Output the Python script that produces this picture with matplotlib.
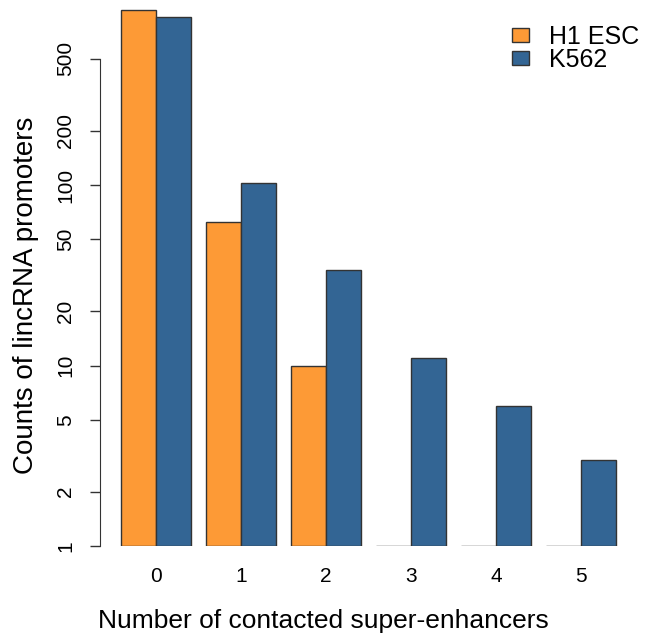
import numpy as np
import matplotlib
matplotlib.use("Agg")
import matplotlib.pyplot as plt
from matplotlib.patches import Patch

# ── Data ──────────────────────────────────────────────────────────────────────
categories = ["0", "1", "2", "3", "4", "5"]
h1_esc = [930, 62, 10, 1, 1, 1]
k562 = [850, 102, 34, 11, 6, 3]
y_ticks = [1, 2, 5, 10, 20, 50, 100, 200, 500]

ORANGE = "#FD9A36"
BLUE = "#336594"
EDGE = "#333333"

plt.rcParams["font.family"] = ["Liberation Sans", "DejaVu Sans"]

fig = plt.figure(figsize=(6.6, 6.38), dpi=100)
W, H = 660, 638
# axes box in pixels: left 100, right 660, top 0, bottom 546
ax = fig.add_axes([100 / W, 1 - 546 / H, 560 / W, 546 / H])

x = np.arange(len(categories))
bw = 35 / 85
base = 1
ax.bar(x - bw / 2, np.array(h1_esc) - base, bw, bottom=base, color=ORANGE,
       edgecolor=EDGE, linewidth=1.0)
ax.bar(x + bw / 2, np.array(k562) - base, bw, bottom=base, color=BLUE,
       edgecolor=EDGE, linewidth=1.0)

ax.set_yscale("log")
ax.set_ylim(1, 10 ** (546 / 180.5))
ax.set_xlim(-56 / 85, 5 + 79 / 85)

ax.set_yticks(y_ticks)
ax.set_yticklabels([str(t) for t in y_ticks], rotation=90, va="center")
ax.yaxis.set_minor_locator(matplotlib.ticker.NullLocator())
ax.tick_params(axis="y", length=7, width=1, color=EDGE, pad=11, labelsize=15)
ax.spines["left"].set_bounds(1, 500)
ax.spines["left"].set_color(EDGE)
for s in ["top", "right", "bottom"]:
    ax.spines[s].set_visible(False)

ax.set_xticks(x)
ax.set_xticklabels(categories)
ax.tick_params(axis="x", length=0, pad=15, labelsize=15)

ax.set_ylabel("Counts of lincRNA promoters", fontsize=20, va="center")
ax.yaxis.set_label_coords((26 - 100) / 560, (546 - 295.5) / 546)
ax.set_xlabel("Number of contacted super-enhancers", fontsize=19, va="baseline")
ax.xaxis.set_label_coords((323.5 - 100) / 560, (546 - 628) / 546)

handles = [Patch(facecolor=ORANGE, edgecolor=EDGE, label="H1 ESC"),
           Patch(facecolor=BLUE, edgecolor=EDGE, label="K562")]
ax.legend(handles=handles, loc="upper left", frameon=False, fontsize=18,
          handlelength=0.68, handleheight=0.48, handletextpad=0.8,
          labelspacing=-0.03, borderpad=0, borderaxespad=0,
          bbox_to_anchor=((512 - 100) / 560, 1 - 25 / 546))

fig.savefig("out.png", dpi=100)
